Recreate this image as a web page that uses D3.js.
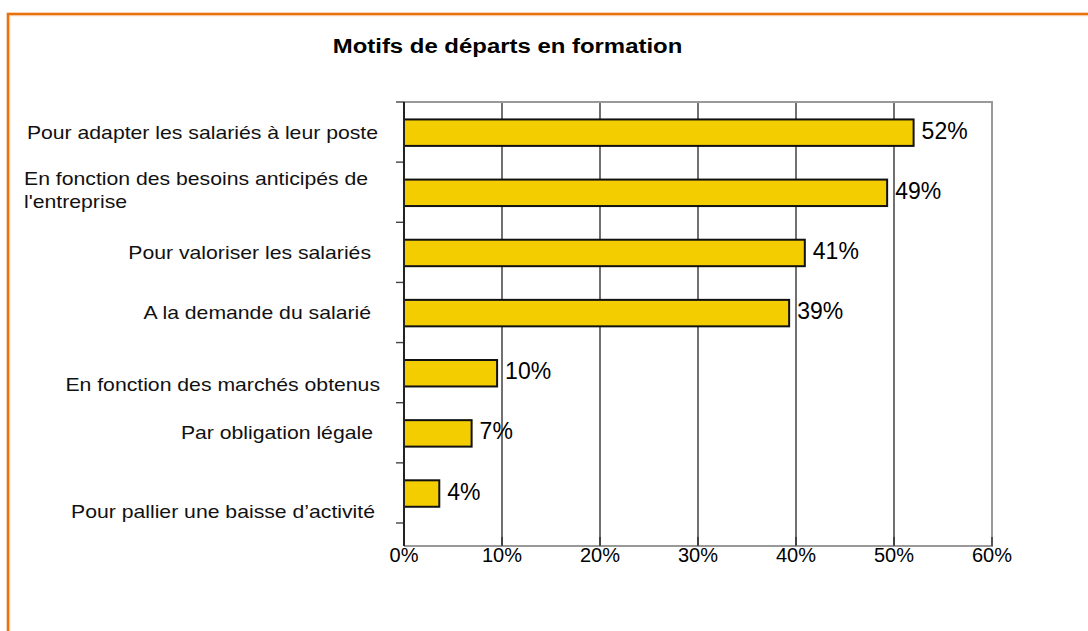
<!DOCTYPE html>
<html><head><meta charset="utf-8">
<script src="https://cdn.jsdelivr.net/npm/d3@7"></script>
<style>html,body{margin:0;padding:0;background:#fff;}svg{display:block;}</style>
</head><body>
<svg id="c" width="1088" height="631"></svg>
<script>
const title = "Motifs de départs en formation";
const categories = [
  ["Pour adapter les salariés à leur poste"],
  ["En fonction des besoins anticipés de", "l'entreprise"],
  ["Pour valoriser les salariés"],
  ["A la demande du salarié"],
  ["En fonction des marchés obtenus"],
  ["Par obligation légale"],
  ["Pour pallier une baisse d’activité"]
];
const values = [52.0, 49.3, 40.9, 39.3, 9.5, 6.9, 3.6];
const valueLabels = ["52%", "49%", "41%", "39%", "10%", "7%", "4%"];
const xTicks = [0, 10, 20, 30, 40, 50, 60];
const xTickLabels = ["0%", "10%", "20%", "30%", "40%", "50%", "60%"];

// layout (not data): per-label horizontal end and vertical shift
const labelEndX = [378, null, 371, 371, 380, 373, 375];
const labelShift = [0, 0, 0, 0, 12, 0, 19];

const svg = d3.select("#c");
const font = "'Liberation Sans', Arial, sans-serif";
const SX = 1.14; // horizontal text stretch

// frame
svg.append("rect").attr("x", 8).attr("y", 14).attr("width", 1100).attr("height", 640)
  .attr("fill", "none").attr("stroke", "#E8720E").attr("stroke-width", 2.6);
svg.append("rect").attr("x", 9.8).attr("y", 15.8).attr("width", 1100).attr("height", 640)
  .attr("fill", "none").attr("stroke", "#F6C49A").attr("stroke-width", 0.8);

const L = 404, R = 992, T = 102, B = 546, catB = 523;
const x = d3.scaleLinear().domain([0, 60]).range([L, R]);
const ids = categories.map((c, i) => i);
const y = d3.scaleBand().domain(ids).range([T, catB]).padding(0);
const bw = y.bandwidth();

svg.append("g").attr("transform", `translate(507.5,53) scale(${SX},1)`)
  .append("text").attr("text-anchor", "middle")
  .attr("font-family", font).attr("font-weight", "bold").attr("font-size", 21)
  .attr("fill", "#000").text(title);

// gridlines
svg.append("g").selectAll("line").data(xTicks.slice(1, -1)).join("line")
  .attr("x1", d => x(d)).attr("x2", d => x(d)).attr("y1", T).attr("y2", B)
  .attr("stroke", "#111").attr("stroke-width", 1.2);

// plot border (top, right, bottom)
svg.append("path").attr("d", `M${L},${T}H${R}V${B}H${L}`)
  .attr("fill", "none").attr("stroke", "#999").attr("stroke-width", 2);

// x axis inner ticks
svg.append("g").selectAll("line").data(xTicks).join("line")
  .attr("x1", d => x(d)).attr("x2", d => x(d)).attr("y1", B - 9).attr("y2", B)
  .attr("stroke", "#222").attr("stroke-width", 1.2);

// y ticks
const yTickPos = ids.map(i => y(i)).concat([catB]);
svg.append("g").selectAll("line").data(yTickPos).join("line")
  .attr("x1", L - 8).attr("x2", L).attr("y1", d => d).attr("y2", d => d)
  .attr("stroke", "#444").attr("stroke-width", 1.4);

// bars
svg.append("g").selectAll("rect").data(values).join("rect")
  .attr("x", x(0)).attr("y", (d, i) => y(i) + bw * 0.29)
  .attr("width", d => x(d) - x(0)).attr("height", bw * 0.44)
  .attr("fill", "#F3CD00").attr("stroke", "#111").attr("stroke-width", 2);

// left axis line
svg.append("line").attr("x1", L).attr("x2", L).attr("y1", T).attr("y2", B)
  .attr("stroke", "#222").attr("stroke-width", 2);

// value labels
svg.append("g").selectAll("text").data(values).join("text")
  .attr("x", d => x(d) + 8).attr("y", (d, i) => y(i) + bw * 0.29 + bw * 0.22 + 6)
  .attr("font-family", font).attr("font-size", 23).attr("fill", "#000")
  .text((d, i) => valueLabels[i]);

// x tick labels
svg.append("g").selectAll("text").data(xTicks).join("text")
  .attr("x", d => x(d)).attr("y", 562).attr("text-anchor", "middle")
  .attr("font-family", font).attr("font-size", 20).attr("fill", "#000")
  .text((d, i) => xTickLabels[i]);

// category labels
categories.forEach((lines, i) => {
  const cy = y(i) + bw / 2;
  if (lines.length === 1) {
    svg.append("g").attr("transform", `translate(${labelEndX[i]},${cy + 6.5 + labelShift[i]}) scale(${SX},1)`)
      .append("text").attr("text-anchor", "end").attr("font-family", font).attr("font-size", 18.6)
      .attr("fill", "#111").text(lines[0]);
  } else {
    lines.forEach((ln, k) => {
      svg.append("g").attr("transform", `translate(24,${cy - 7.5 + k * 23}) scale(${SX},1)`)
        .append("text").attr("font-family", font).attr("font-size", 18.6)
        .attr("fill", "#111").text(ln);
    });
  }
});
</script>
</body></html>
